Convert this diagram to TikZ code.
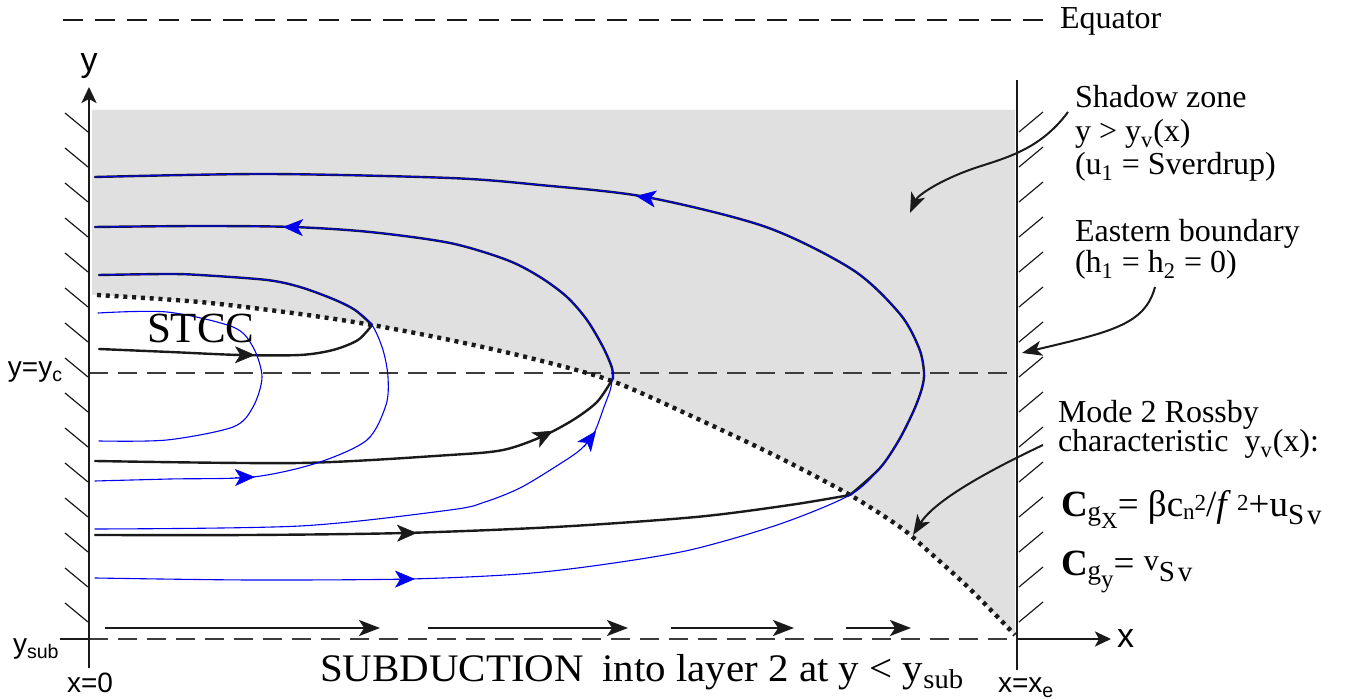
\documentclass[tikz,border=0pt]{standalone}
\usepackage{fontspec}
\usepackage{graphicx}
\setmainfont{Liberation Serif}
\newfontfamily\axfont{Liberation Sans}
\usetikzlibrary{arrows.meta}
\definecolor{shadegray}{HTML}{E0E0E0}
\definecolor{flowblue}{HTML}{0000F0}
\definecolor{ink}{HTML}{1A1A1A}
\definecolor{dashgray}{HTML}{3C3C3C}
\newcommand{\shiftsz}[3]{\raisebox{#1}{\fontsize{#2}{#2}\selectfont #3}}
\begin{document}
\begin{tikzpicture}[x=0.5pt,y=-0.5pt,
  every node/.style={inner sep=0pt,outer sep=0pt},
  wall/.style={line width=1.4pt,draw=ink},
  hatch/.style={line width=0.6pt,draw=ink},
  guide/.style={line width=0.65pt,draw=dashgray,dash pattern=on 9.5pt off 5pt},
  flowk/.style={line width=1.2pt,draw=ink,line cap=round,line join=round},
  flowb/.style={line width=0.55pt,draw=flowblue,line cap=round,line join=round},
  headk/.style={draw=ink,line width=0.3pt,-{Stealth[length=10pt,width=8.5pt,inset=2.6pt,fill=ink]}},
  headb/.style={draw=flowblue,line width=0.3pt,-{Stealth[length=10pt,width=8.5pt,inset=2.6pt,fill=flowblue]}},
  subarrow/.style={line width=1.25pt,draw=ink,-{Stealth[length=10.5pt,width=8pt,inset=2.6pt]}},
  callout/.style={line width=1pt,draw=ink,-{Stealth[length=10pt,width=7.5pt,inset=2.6pt]}},
  axisarrow/.style={line width=1.4pt,draw=ink,-{Stealth[length=8pt,width=7.5pt,inset=2pt]}},
  lbl/.style={anchor=base west,font=\fontsize{16}{17}\selectfont},
  eqn/.style={anchor=base west,font=\fontsize{18.5}{20}\selectfont},
  axlbl/.style={font=\axfont\fontsize{14}{16}\selectfont},
]
\useasboundingbox (0,0) rectangle (1346,699);

% shadow zone
\fill[shadegray] (92,110) -- (1015,110) -- plot[smooth] coordinates {(1015,635) (970,589) (927,550) (900,527) (850,495) (780,458) (700,420) (612,381) (530,358) (450,340) (372,325) (300,314) (200,302) (97,295)} -- (92,295) -- cycle;

% equator
\draw[line width=1.25pt,draw=ink,dash pattern=on 10pt off 6pt] (63,20) -- (1045,20);
\node[lbl] (equator) at (1060,29) {Equator};

% guide lines
\draw[guide] (89,373) -- (1017,373);
\draw[guide] (89,639) -- (1017,639);

% Rossby characteristic
\draw[line width=2.2pt,draw=ink,dash pattern=on 2pt off 2.4pt] plot[smooth] coordinates {(97,295) (200,302) (300,314) (372,325) (450,340) (530,358) (612,381) (700,420) (780,458) (850,495) (900,527) (927,550) (970,589) (1015,635)};

% black streamlines
\draw[flowk] plot[smooth] coordinates {(95,535) (250,535) (405,533) (555,527) (696,517) (790,505) (850,495)};
\draw[flowk] plot[smooth] coordinates {(850,495) (880,468) (899,440) (914,410) (922,388) (924,372) (919,348) (900,314) (853,270) (766,227) (646,197) (540,185) (450,178) (267,174) (95,177)};
\draw[flowk] plot[smooth] coordinates {(95,461) (300,463) (450,455) (503,450) (541,437) (573,420) (597,402) (612,380)};
\draw[flowk] plot[smooth] coordinates {(613,379) (612,368) (603,347) (587,320) (567,297) (540,277) (507,260) (450,243) (370,232) (293,227) (200,226) (95,227)};
\draw[flowk] plot[smooth] coordinates {(99,349) (170,352) (240,355) (300,355) (333,350) (358,340) (372,325)};
\draw[flowk] plot[smooth] coordinates {(372,325) (355,310) (333,299) (300,287) (267,280) (200,275) (167,274) (99,275)};

% blue streamlines
\draw[flowb] plot[smooth] coordinates {(95,578) (250,580) (410,579) (520,574) (600,565) (690,550) (780,524) (850,495) (880,468) (899,440) (914,410) (922,388) (924,372) (919,348) (900,314) (853,270) (766,227) (646,197) (540,185) (450,178) (267,174) (95,177)};
\draw[flowb] plot[smooth] coordinates {(95,529) (300,526) (450,510) (485,502) (520,488) (555,467) (580,450) (594,433) (604,407) (611,387) (612,368) (603,347) (587,320) (567,297) (540,277) (507,260) (450,243) (370,232) (293,227) (200,226) (95,227)};
\draw[flowb] plot[smooth] coordinates {(95,481) (170,479) (253,477) (317,463) (367,440) (386,405) (388,377) (383,350) (372,325) (355,310) (333,299) (300,287) (267,280) (200,275) (167,274) (99,275)};
\draw[flowb] plot[smooth] coordinates {(98,313) (167,312) (233,327) (253,347) (262,377) (253,407) (233,427) (167,440) (99,441)};

% arrowheads on streamlines
\draw[headk] (397,533.2) -- (417,533);
\draw[headb] (395,579.1) -- (415,579);
\draw[headb] (656,199) -- (636,196);
\draw[headb] (303,227.6) -- (283,227);
\draw[headk] (535,440.2) -- (553,430.8);
\draw[headb] (584,447) -- (596,431);
\draw[headk] (235,354.8) -- (255,355);
\draw[headb] (235,477.5) -- (255,477);

% subduction arrows
\draw[subarrow] (105,628) -- (380,628);
\draw[subarrow] (428,628) -- (628,628);
\draw[subarrow] (671,628) -- (794,628);
\draw[subarrow] (846,628) -- (911,628);

% walls and axes
\draw[axisarrow] (89,668) -- (89,87);
\draw[wall] (1017,80) -- (1017,670);
\draw[axisarrow] (1017,639) -- (1111,639);
\draw[wall] (60,639) -- (89,639);
\foreach \k in {0,...,14} {
  \draw[hatch] (65,{113+35*\k}) -- (88,{132+35*\k});
  \draw[hatch] (1019,{132+35*\k}) -- (1043,{112+35*\k});
}

% axis labels
\node[axlbl,font=\axfont\fontsize{17}{18}\selectfont,anchor=base] (ylab) at (89,72) {y};
\node[axlbl,font=\axfont\fontsize{17}{18}\selectfont,anchor=base west] (xlab) at (1117,648) {x};
\node[axlbl,anchor=base] (x0) at (90,693) {x=0};
\node[axlbl,anchor=base west] (xe) at (998,693) {x=x\textsubscript{e}};
\node[axlbl,anchor=base west] (yc) at (8,377) {y=y\textsubscript{c}};
\node[axlbl,anchor=base west] (ysub) at (13,654) {y\textsubscript{sub}};

% text labels
\node[anchor=base west,font=\fontsize{21.5}{24}\selectfont] (stcc) at (147,343) {STCC};
\node[anchor=base west,font=\fontsize{19.5}{21}\selectfont] (subd) at (320,682) {\scalebox{1.05}[1]{SUBDUCTION\hspace{0.45em}into layer 2 at y < y\textsubscript{sub}}};

\node[lbl] (sz1) at (1075,108) {Shadow zone};
\node[lbl] (sz2) at (1075,142) {y > y\textsubscript{v}(x)};
\node[lbl] (sz3) at (1075,175) {(u\textsubscript{1} = Sverdrup)};
\node[lbl] (eb1) at (1075,242) {Eastern boundary};
\node[lbl] (eb2) at (1075,273) {(h\textsubscript{1} = h\textsubscript{2} = 0)};
\node[lbl] (m1) at (1058,423) {Mode 2 Rossby};
\node[lbl] (m2) at (1058,452) {characteristic\ \ y\textsubscript{v}(x):};
\node[eqn] (cgx) at (1061,517) {\textbf{C}\shiftsz{-2pt}{13.5}{g\shiftsz{-4pt}{11.5}{X}}= βc\shiftsz{-1.5pt}{11.5}{n}\shiftsz{3pt}{11.5}{2}/\textit{f}\,\shiftsz{3pt}{11.5}{2}+u\shiftsz{-4pt}{14.5}{S\kern1.5pt v}};
\node[eqn] (cgy) at (1061,576) {\textbf{C}\shiftsz{-2pt}{13.5}{g\shiftsz{-4pt}{12.5}{y}}= \shiftsz{2.5pt}{15}{v}\shiftsz{-3pt}{14.5}{S\kern1.5pt v}};

% callout arrows
\coordinate (szs) at (1068,112);
\coordinate (szt) at (910,213);
\coordinate (ebs) at (1155,287);
\coordinate (ebt) at (1022,353);
\coordinate (ms) at (1043,445);
\coordinate (mt) at (913,535);
\draw[callout] (szs) .. controls (1040,150) and (1005,158) .. (975,168) .. controls (940,180) and (918,195) .. (szt);
\draw[callout] (ebs) .. controls (1145,325) and (1110,332) .. (ebt);
\draw[callout] (ms) .. controls (990,470) and (935,500) .. (mt);
\end{tikzpicture}
\end{document}
